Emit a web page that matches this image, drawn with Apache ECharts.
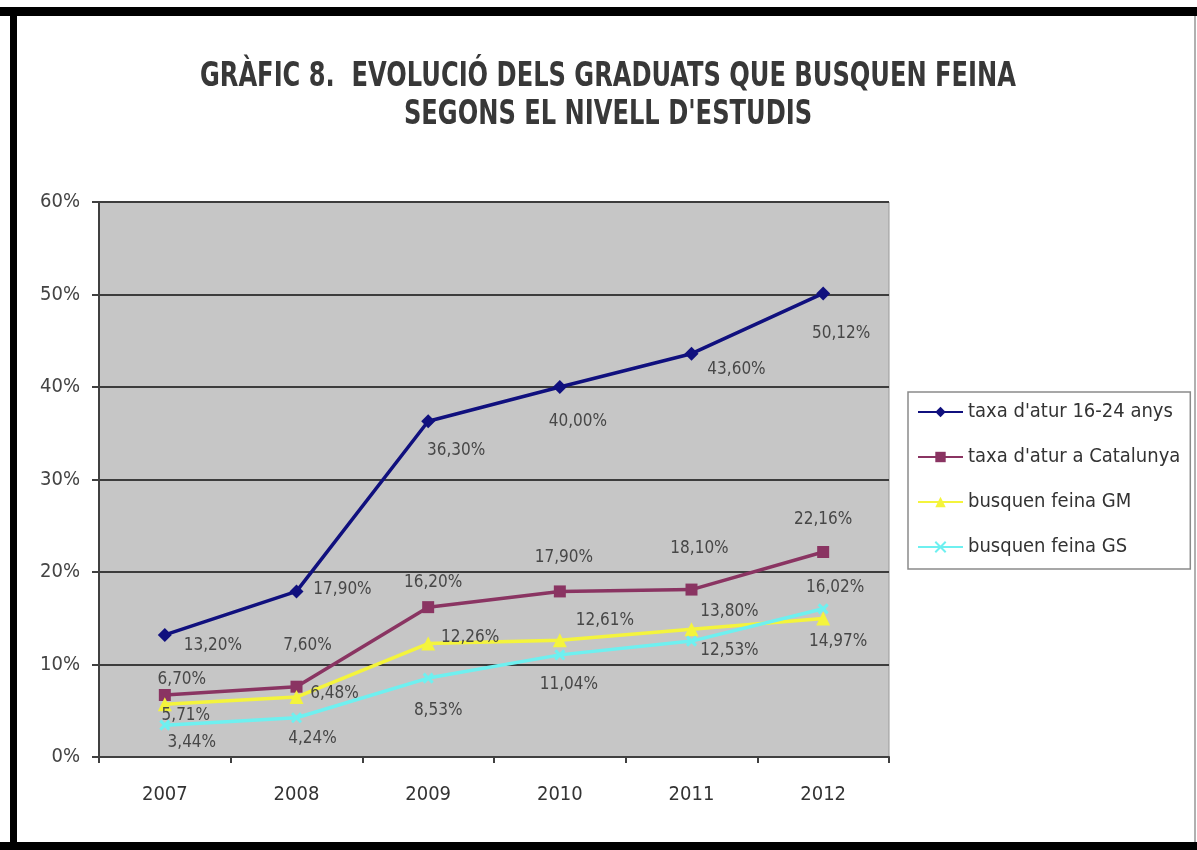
<!DOCTYPE html>
<html>
<head>
<meta charset="utf-8">
<title>Gràfic 8</title>
<script src="https://cdn.jsdelivr.net/npm/echarts@6/dist/echarts.min.js"></script>
<style>
  html, body { margin: 0; padding: 0; background: #fff; }
  #chart { width: 1197px; height: 850px; }
</style>
</head>
<body>
<div id="chart"></div>
<script>
// dades llegides del gràfic
const years = ['2007', '2008', '2009', '2010', '2011', '2012'];
const atur1624 = [13.20, 17.90, 36.30, 40.00, 43.60, 50.12];
const aturCat = [6.70, 7.60, 16.20, 17.90, 18.10, 22.16];
const feinaGM = [5.71, 6.48, 12.26, 12.61, 13.80, 14.97];
const feinaGS = [3.44, 4.24, 8.53, 11.04, 12.53, 16.02];
const yTicks = [0, 10, 20, 30, 40, 50, 60];

// on va cada etiqueta respecte al punt (px)
const offs1624 = [[48, 11], [46, -2], [28, 29], [18, 35], [45, 16], [18, 40]];
const offsCat = [[17, -15], [11, -41], [5, -25], [4, -34], [8, -41], [0, -32]];
const offsGM = [[21, 11], [38, -3], [42, -6], [45, -20], [38, -18], [15, 23]];
const offsGS = [[27, 17], [16, 21], [10, 32], [9, 30], [38, 9], [12, -21]];

const FONT = "'Liberation Sans Narrow', 'DejaVu Sans Condensed', 'Liberation Sans', sans-serif";

const fmt = v => v.toFixed(2).replace('.', ',') + '%';

function withLabels(values, offsets) {
    return values.map((v, i) => ({
        value: v,
        label: { offset: offsets[i] }
    }));
}

function makeSeries(name, values, offsets, color, symbol, size) {
    return {
        name: name,
        type: 'line',
        data: withLabels(values, offsets),
        symbol: symbol,
        symbolSize: size,
        lineStyle: { color: color, width: 3.5 },
        itemStyle: { color: color, borderColor: color, borderWidth: symbol.indexOf('path') === 0 ? 3 : 0 },
        label: {
            show: true,
            position: 'inside',
            align: 'center',
            verticalAlign: 'middle',
            formatter: p => fmt(p.value),
            color: '#474747',
            fontFamily: FONT,
            fontSize: 17
        },
        emphasis: { disabled: true }
    };
}

const chart = echarts.init(document.getElementById('chart'));

// títol en dues línies, una mica estret com l'original
const titleLines = ['GRÀFIC 8.  EVOLUCIÓ DELS GRADUATS QUE BUSQUEN FEINA', "SEGONS EL NIVELL D'ESTUDIS"];

const option = {
    animation: false,
    backgroundColor: '#ffffff',
    graphic: [
        { type: 'rect', shape: { x: 0, y: 7, width: 1197, height: 9 }, style: { fill: '#000' } },
        { type: 'rect', shape: { x: 10, y: 7, width: 7, height: 843 }, style: { fill: '#000' } },
        { type: 'rect', shape: { x: 0, y: 842, width: 1197, height: 8 }, style: { fill: '#000' } },
        { type: 'rect', shape: { x: 1194, y: 16, width: 2, height: 826 }, style: { fill: '#b0b0b0' } },
        {
            type: 'text', x: 608, y: 77, scaleX: 0.79,
            style: {
                text: titleLines[0], fill: '#383838',
                font: "bold 34px " + FONT, align: 'center', verticalAlign: 'middle'
            }
        },
        {
            type: 'text', x: 608, y: 115, scaleX: 0.79,
            style: {
                text: titleLines[1], fill: '#383838',
                font: "bold 34px " + FONT, align: 'center', verticalAlign: 'middle'
            }
        }
    ],
    legend: {
        orient: 'vertical',
        left: 908,
        top: 392,
        padding: [10, 10, 12, 9],
        itemGap: 25,
        itemWidth: 45,
        itemHeight: 13,
        backgroundColor: '#fff',
        borderColor: '#8a8a8a',
        borderWidth: 1.5,
        textStyle: { fontFamily: FONT, fontSize: 20, color: '#333' }
    },
    grid: {
        left: 99,
        right: 308,
        top: 202,
        bottom: 93,
        show: true,
        backgroundColor: '#c6c6c6',
        borderColor: '#9a9a9a',
        borderWidth: 1
    },
    xAxis: {
        type: 'category',
        data: years,
        boundaryGap: true,
        axisLine: { lineStyle: { color: '#404040', width: 2 } },
        axisTick: { show: true, length: 6, lineStyle: { color: '#404040', width: 2 } },
        axisLabel: { margin: 28, fontFamily: FONT, fontSize: 20, color: '#333' }
    },
    yAxis: {
        type: 'value',
        min: yTicks[0],
        max: yTicks[yTicks.length - 1],
        interval: 10,
        axisLine: { show: true, lineStyle: { color: '#404040', width: 2 } },
        axisTick: { show: true, length: 7, lineStyle: { color: '#404040', width: 2 } },
        axisLabel: {
            margin: 19,
            fontFamily: FONT,
            fontSize: 20,
            color: '#444',
            formatter: v => v + '%'
        },
        splitLine: { lineStyle: { color: '#3c3c3c', width: 2 } }
    },
    series: [
        makeSeries("taxa d'atur 16-24 anys", atur1624, offs1624, '#10107e', 'diamond', 14),
        makeSeries("taxa d'atur a Catalunya", aturCat, offsCat, '#8a3462', 'rect', 12),
        makeSeries('busquen feina GM', feinaGM, offsGM, '#f4f43c', 'triangle', 14),
        makeSeries('busquen feina GS', feinaGS, offsGS, '#6ef0f0', 'path://M0,0L10,10M10,0L0,10', 9)
    ]
};

chart.setOption(option);

window.addEventListener('resize', () => chart.resize());
</script>
</body>
</html>
